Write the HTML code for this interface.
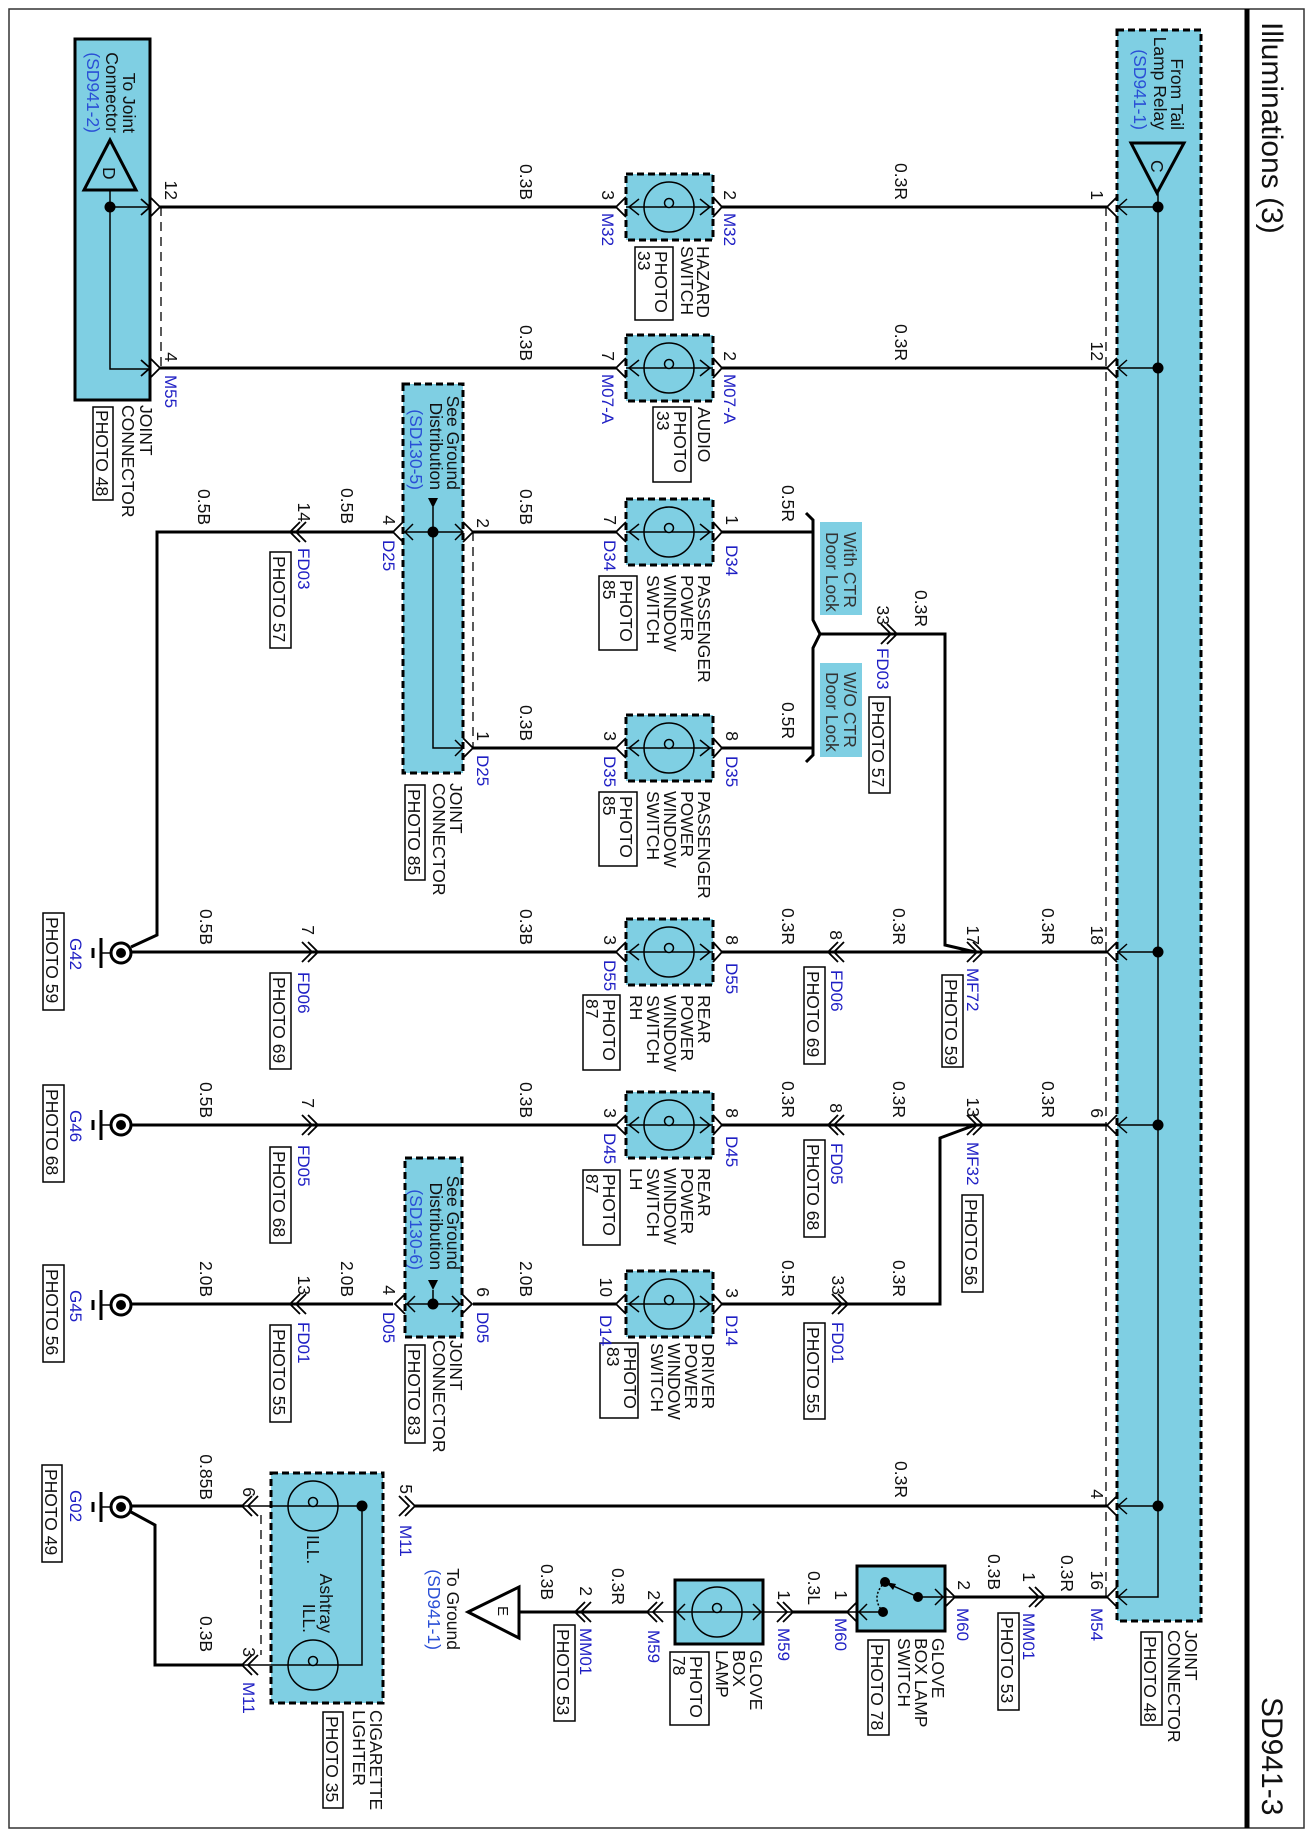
<!DOCTYPE html>
<html><head><meta charset="utf-8">
<style>
html,body{margin:0;padding:0;background:#fff;}
svg{display:block;}
text{font-family:"Liberation Sans",Arial,sans-serif;font-size:17.5px;fill:#111;}
.b{fill:#1f1fc4;font-size:17px;}
.s{fill:#2a4fd6;}
.e{text-anchor:end;}
.k{fill:#333;}
.w{fill:none;stroke:#000;stroke-width:3;}
.n{fill:none;stroke:#000;stroke-width:1.5;}
.c{fill:none;stroke:#000;stroke-width:1.8;}
.bx{fill:#7fcfe3;stroke:#000;stroke-width:3;stroke-dasharray:7 4;}
.sb{fill:#7fcfe3;stroke:#000;stroke-width:3;}
.pb{fill:#fff;stroke:#000;stroke-width:1.5;}
.dl{fill:none;stroke:#000;stroke-width:1.3;stroke-dasharray:9 6;}
</style></head><body>
<svg width="1311" height="1839" viewBox="0 0 1311 1839" xmlns="http://www.w3.org/2000/svg">
<rect x="9" y="9" width="1295" height="1819" fill="none" stroke="#333" stroke-width="1.5"/>
<line x1="1247" y1="9" x2="1247" y2="1828" stroke="#000" stroke-width="5"/>
<text transform="translate(1262,22) rotate(90)" style="font-size:30px">Illuminations (3)</text>
<text transform="translate(1262,1697) rotate(90)" style="font-size:30px">SD941-3</text>

<rect class="sb" x="75" y="39" width="75" height="361"/>
<rect class="bx" x="1117" y="30" width="84" height="1591"/>
<rect class="bx" x="403" y="384" width="60" height="389"/>
<rect class="bx" x="405" y="1158" width="57" height="179"/>
<rect class="bx" x="271" y="1473" width="112" height="230"/>
<rect class="sb" x="675" y="1580" width="88" height="64"/>
<rect class="sb" x="857" y="1566" width="88" height="65"/>
<g class="bx">
<rect x="626" y="174" width="87" height="66"/>
<rect x="626" y="335" width="87" height="66"/>
<rect x="626" y="499" width="87" height="66"/>
<rect x="626" y="715" width="87" height="66"/>
<rect x="626" y="919" width="87" height="66"/>
<rect x="626" y="1092" width="87" height="66"/>
<rect x="626" y="1271" width="87" height="66"/>
</g>
<rect x="820" y="522" width="42" height="93" fill="#7fcfe3"/>
<rect x="820" y="663" width="42" height="94" fill="#7fcfe3"/>

<polygon points="110,140 84,190 136,190" fill="none" stroke="#000" stroke-width="3"/>
<polygon points="1131,143 1184,143 1157,193" fill="none" stroke="#000" stroke-width="3"/>
<polygon points="468,1612 519,1587 519,1638" fill="#fff" stroke="#000" stroke-width="3"/>
<polygon points="428,498 438,498 433,508" fill="#000"/>
<polygon points="428,1280 438,1280 433,1290" fill="#000"/>

<path class="w" d="M160 207H616M722 207H1107M160 368H616M722 368H1107
M131 947L157 935V532H393M473 532H616M722 532H813M473 748H616M722 748H813
M806 513L813 520V620L820 634L813 648V755L806 762M820 634H945V945L975 952
M131 952H616M722 952H1107M131 1125H616M722 1125H1107M975 1125L940 1138V1304H722
M131 1304H393M473 1304H616
M131 1506H242M415 1506H1107M131 1512L155 1525V1665H242
M955 1597H1107M519 1612H647M793 1612H847"/>

<path class="n" d="M110 190V369H150M110 207H150M1158 193V1597H1117M1158 207H1117M1158 368H1117M1158 952H1117M1158 1125H1117M1158 1506H1117
M403 532H463M433 507V748H463M405 1304H462M433 1290V1304
M242 1506H362V1665H242M647 1612H793
M918 1597H955M883 1612H847M918 1597L889 1584
M626 207H713M626 368H713M626 532H713M626 748H713M626 952H713M626 1125H713M626 1304H713"/>
<path d="M885 1582Q870 1597 883 1612" fill="none" stroke="#000" stroke-width="1.5" stroke-dasharray="2 2"/>
<polygon points="886,1582 896,1584 893,1590" fill="#000"/>
<g fill="#000">
<circle cx="110" cy="207" r="5.5"/><circle cx="1158" cy="207" r="5.5"/><circle cx="1158" cy="368" r="5.5"/>
<circle cx="1158" cy="952" r="5.5"/><circle cx="1158" cy="1125" r="5.5"/><circle cx="1158" cy="1506" r="5.5"/>
<circle cx="433" cy="532" r="5.5"/><circle cx="433" cy="1304" r="5.5"/><circle cx="362" cy="1506" r="5.5"/>
<circle cx="885" cy="1582" r="5"/><circle cx="918" cy="1597" r="5"/><circle cx="883" cy="1612" r="5"/>
</g>

<path class="dl" d="M161 207V369M473 532V748M1106 207V1597M261 1515V1655"/>

<g fill="none" stroke="#000" stroke-width="1.5">
<circle cx="669" cy="207" r="25"/><circle cx="669" cy="368" r="25"/><circle cx="669" cy="532" r="25"/>
<circle cx="669" cy="748" r="25"/><circle cx="669" cy="952" r="25"/><circle cx="669" cy="1125" r="25"/>
<circle cx="669" cy="1304" r="25"/><circle cx="313" cy="1506" r="25"/><circle cx="313" cy="1665" r="25"/>
<circle cx="717" cy="1612" r="25"/>
</g>
<g fill="#7fcfe3" stroke="#000" stroke-width="1.5">
<circle cx="669" cy="203" r="4.5"/><circle cx="669" cy="364" r="4.5"/><circle cx="669" cy="528" r="4.5"/>
<circle cx="669" cy="744" r="4.5"/><circle cx="669" cy="948" r="4.5"/><circle cx="669" cy="1121" r="4.5"/>
<circle cx="669" cy="1300" r="4.5"/><circle cx="313" cy="1502" r="4.5"/><circle cx="313" cy="1661" r="4.5"/>
<circle cx="717" cy="1608" r="4.5"/>
</g>

<path class="c" d="M150 197L160 207L150 217M150 358L160 368L150 378
M141 199L150 207L141 215M141 360L150 368L141 376
M1117 197L1107 207L1117 217M1117 358L1107 368L1117 378M1117 942L1107 952L1117 962M1117 1115L1107 1125L1117 1135M1117 1496L1107 1506L1117 1516M1117 1587L1107 1597L1117 1607"/>
<path class="n" d="M1127 199L1118 207L1127 215M1127 360L1118 368L1127 376M1127 944L1118 952L1127 960M1127 1117L1118 1125L1127 1133M1127 1498L1118 1506L1127 1514M1127 1589L1118 1597L1127 1605"/>
<g class="c">
<path d="M626 197L616 207L626 217M713 197L722 207L713 217"/>
<path d="M626 358L616 368L626 378M713 358L722 368L713 378"/>
<path d="M626 522L616 532L626 542M713 522L722 532L713 542"/>
<path d="M626 738L616 748L626 758M713 738L722 748L713 758"/>
<path d="M626 942L616 952L626 962M713 942L722 952L713 962"/>
<path d="M626 1115L616 1125L626 1135M713 1115L722 1125L713 1135"/>
<path d="M626 1294L616 1304L626 1314M713 1294L722 1304L713 1314"/>
<path d="M403 522L393 532L403 542M463 522L473 532L463 542M463 738L473 748L463 758"/>
<path d="M405 1294L395 1304L405 1314M462 1294L472 1304L462 1314"/>
<path d="M300 522L290 532L300 542M306 522L296 532L306 542"/>
<path d="M308 942L318 952L308 962M302 942L312 952L302 962"/>
<path d="M308 1115L318 1125L308 1135M302 1115L312 1125L302 1135"/>
<path d="M300 1294L290 1304L300 1314M306 1294L296 1304L306 1314"/>
<path d="M838 942L828 952L838 962M844 942L834 952L844 962"/>
<path d="M838 1115L828 1125L838 1135M844 1115L834 1125L844 1135"/>
<path d="M973 942L983 952L973 962M967 942L977 952L967 962"/>
<path d="M973 1115L983 1125L973 1135M967 1115L977 1125L967 1135"/>
<path d="M887 624L897 634L887 644M881 624L891 634L881 644"/>
<path d="M838 1294L848 1304L838 1314M832 1294L842 1304L832 1314"/>
<path d="M252 1496L242 1506L252 1516M258 1496L248 1506L258 1516"/>
<path d="M252 1655L242 1665L252 1675M258 1655L248 1665L258 1675"/>
<path d="M405 1496L415 1506L405 1516M399 1496L409 1506L399 1516"/>
<path d="M585 1602L575 1612L585 1622M591 1602L581 1612L591 1622"/>
<path d="M657 1602L647 1612L657 1622M663 1602L653 1612L663 1622"/>
<path d="M783 1602L793 1612L783 1622M777 1602L787 1612L777 1622"/>
<path d="M857 1602L847 1612L857 1622M945 1587L955 1597L945 1607"/>
<path d="M1035 1587L1045 1597L1035 1607M1029 1587L1039 1597L1029 1607"/>
</g>
<path class="n" d="M639 199L629 207L639 215M700 199L710 207L700 215M639 360L629 368L639 376M700 360L710 368L700 376
M639 524L629 532L639 540M700 524L710 532L700 540M639 740L629 748L639 756M700 740L710 748L700 756
M639 944L629 952L639 960M700 944L710 952L700 960M639 1117L629 1125L639 1133M700 1117L710 1125L700 1133
M639 1296L629 1304L639 1312M700 1296L710 1304L700 1312
M413 524L405 532L413 540M455 524L463 532L455 540M455 740L463 748L455 756M415 1296L407 1304L415 1312M452 1296L460 1304L452 1312
M685 1604L677 1612L685 1620M753 1604L761 1612L753 1620M867 1604L859 1612L867 1620M935 1589L943 1597L935 1605"/>

<g>
<g transform="translate(0,953)"><line x1="101" y1="-15" x2="101" y2="15" stroke="#000" stroke-width="3"/><line x1="93" y1="-5" x2="93" y2="5" stroke="#000" stroke-width="3"/><line x1="101" y1="0" x2="111" y2="0" stroke="#000" stroke-width="1.5"/><circle cx="121" cy="0" r="10" fill="#fff" stroke="#000" stroke-width="3"/><circle cx="121" cy="0" r="5" fill="#000"/></g>
<g transform="translate(0,1125)"><line x1="101" y1="-15" x2="101" y2="15" stroke="#000" stroke-width="3"/><line x1="93" y1="-5" x2="93" y2="5" stroke="#000" stroke-width="3"/><line x1="101" y1="0" x2="111" y2="0" stroke="#000" stroke-width="1.5"/><circle cx="121" cy="0" r="10" fill="#fff" stroke="#000" stroke-width="3"/><circle cx="121" cy="0" r="5" fill="#000"/></g>
<g transform="translate(0,1305)"><line x1="101" y1="-15" x2="101" y2="15" stroke="#000" stroke-width="3"/><line x1="93" y1="-5" x2="93" y2="5" stroke="#000" stroke-width="3"/><line x1="101" y1="0" x2="111" y2="0" stroke="#000" stroke-width="1.5"/><circle cx="121" cy="0" r="10" fill="#fff" stroke="#000" stroke-width="3"/><circle cx="121" cy="0" r="5" fill="#000"/></g>
<g transform="translate(0,1507)"><line x1="101" y1="-15" x2="101" y2="15" stroke="#000" stroke-width="3"/><line x1="93" y1="-5" x2="93" y2="5" stroke="#000" stroke-width="3"/><line x1="101" y1="0" x2="111" y2="0" stroke="#000" stroke-width="1.5"/><circle cx="121" cy="0" r="10" fill="#fff" stroke="#000" stroke-width="3"/><circle cx="121" cy="0" r="5" fill="#000"/></g>
</g>

<g class="pb">
<rect x="93" y="407" width="20" height="93"/>
<rect x="635" y="247" width="38" height="73"/>
<rect x="653" y="407" width="38" height="75"/>
<rect x="270" y="552" width="21" height="96"/>
<rect x="599" y="576" width="38" height="74"/>
<rect x="405" y="785" width="20" height="95"/>
<rect x="869" y="697" width="21" height="96"/>
<rect x="599" y="792" width="38" height="74"/>
<rect x="43" y="913" width="21" height="97"/>
<rect x="270" y="973" width="21" height="96"/>
<rect x="804" y="967" width="21" height="97"/>
<rect x="942" y="975" width="21" height="92"/>
<rect x="583" y="995" width="37" height="75"/>
<rect x="43" y="1085" width="21" height="97"/>
<rect x="270" y="1147" width="21" height="96"/>
<rect x="804" y="1140" width="21" height="97"/>
<rect x="962" y="1195" width="21" height="97"/>
<rect x="583" y="1170" width="37" height="75"/>
<rect x="43" y="1265" width="21" height="97"/>
<rect x="270" y="1325" width="21" height="97"/>
<rect x="804" y="1323" width="21" height="96"/>
<rect x="600" y="1343" width="38" height="75"/>
<rect x="405" y="1345" width="20" height="98"/>
<rect x="42" y="1465" width="20" height="97"/>
<rect x="323" y="1712" width="20" height="96"/>
<rect x="554" y="1625" width="21" height="96"/>
<rect x="670" y="1652" width="39" height="73"/>
<rect x="868" y="1640" width="21" height="95"/>
<rect x="998" y="1613" width="21" height="97"/>
<rect x="1141" y="1632" width="21" height="93"/>
</g>

<g>
<text class="e" transform="translate(123,133) rotate(90)">To Joint</text>
<text class="e" transform="translate(106,133) rotate(90)">Connector</text>
<text class="e s" transform="translate(87,133) rotate(90)">(SD941-2)</text>
<text transform="translate(103,167) rotate(90)">D</text>
<text transform="translate(140,405) rotate(90)">JOINT</text>
<text transform="translate(122,405) rotate(90)">CONNECTOR</text>
<text transform="translate(96,410) rotate(90)">PHOTO 48</text>
<text class="e" transform="translate(165,200) rotate(90)">12</text>
<text class="e" transform="translate(165,362) rotate(90)">4</text>
<text class="b" transform="translate(165,375) rotate(90)">M55</text>

<text class="e" transform="translate(1171,130) rotate(90)">From Tail</text>
<text class="e" transform="translate(1154,130) rotate(90)">Lamp Relay</text>
<text class="e s" transform="translate(1134,130) rotate(90)">(SD941-1)</text>
<text transform="translate(1151,160) rotate(90)">C</text>
<text transform="translate(1185,1630) rotate(90)">JOINT</text>
<text transform="translate(1168,1630) rotate(90)">CONNECTOR</text>
<text transform="translate(1144,1636) rotate(90)">PHOTO 48</text>

<text class="e" transform="translate(520,200) rotate(90)">0.3B</text>
<text class="e" transform="translate(602,200) rotate(90)">3</text>
<text class="b" transform="translate(602,213) rotate(90)">M32</text>
<text class="e" transform="translate(724,200) rotate(90)">2</text>
<text class="b" transform="translate(724,213) rotate(90)">M32</text>
<text class="e" transform="translate(895,200) rotate(90)">0.3R</text>
<text class="e" transform="translate(1091,200) rotate(90)">1</text>
<text transform="translate(697,246) rotate(90)">HAZARD</text>
<text transform="translate(681,246) rotate(90)">SWITCH</text>
<text transform="translate(655,251) rotate(90)">PHOTO</text>
<text transform="translate(638,251) rotate(90)">33</text>
<text class="e" transform="translate(520,361) rotate(90)">0.3B</text>
<text class="e" transform="translate(602,361) rotate(90)">7</text>
<text class="b" transform="translate(602,374) rotate(90)">M07-A</text>
<text class="e" transform="translate(724,361) rotate(90)">2</text>
<text class="b" transform="translate(724,374) rotate(90)">M07-A</text>
<text class="e" transform="translate(895,361) rotate(90)">0.3R</text>
<text class="e" transform="translate(1091,361) rotate(90)">12</text>
<text transform="translate(698,407) rotate(90)">AUDIO</text>
<text transform="translate(674,411) rotate(90)">PHOTO</text>
<text transform="translate(657,411) rotate(90)">33</text>
<text class="e" transform="translate(447,490) rotate(90)">See Ground</text>
<text class="e" transform="translate(430,490) rotate(90)">Distribution</text>
<text class="e s" transform="translate(410,490) rotate(90)">(SD130-5)</text>
<text transform="translate(450,783) rotate(90)">JOINT</text>
<text transform="translate(433,783) rotate(90)">CONNECTOR</text>
<text transform="translate(408,789) rotate(90)">PHOTO 85</text>
<text class="e" transform="translate(198,525) rotate(90)">0.5B</text>
<text class="e" transform="translate(298,522) rotate(90)">14</text>
<text class="b" transform="translate(298,548) rotate(90)">FD03</text>
<text transform="translate(273,556) rotate(90)">PHOTO 57</text>
<text class="e" transform="translate(341,524) rotate(90)">0.5B</text>
<text class="e" transform="translate(383,525) rotate(90)">4</text>
<text class="b" transform="translate(383,540) rotate(90)">D25</text>
<text class="e" transform="translate(477,528) rotate(90)">2</text>
<text class="e" transform="translate(520,525) rotate(90)">0.5B</text>
<text class="e" transform="translate(604,525) rotate(90)">7</text>
<text class="b" transform="translate(604,540) rotate(90)">D34</text>
<text class="e" transform="translate(726,525) rotate(90)">1</text>
<text class="b" transform="translate(726,545) rotate(90)">D34</text>
<text class="e" transform="translate(782,522) rotate(90)">0.5R</text>
<text transform="translate(698,575) rotate(90)">PASSENGER</text>
<text transform="translate(681,575) rotate(90)">POWER</text>
<text transform="translate(664,575) rotate(90)">WINDOW</text>
<text transform="translate(647,575) rotate(90)">SWITCH</text>
<text transform="translate(620,580) rotate(90)">PHOTO</text>
<text transform="translate(603,580) rotate(90)">85</text>
<text class="k" transform="translate(844,532) rotate(90)">With CTR</text>
<text class="k" transform="translate(826,532) rotate(90)">Door Lock</text>
<text class="k" transform="translate(844,672) rotate(90)">W/O CTR</text>
<text class="k" transform="translate(826,672) rotate(90)">Door Lock</text>
<text class="e" transform="translate(915,627) rotate(90)">0.3R</text>
<text class="e" transform="translate(877,625) rotate(90)">33</text>
<text class="b" transform="translate(877,648) rotate(90)">FD03</text>
<text transform="translate(872,701) rotate(90)">PHOTO 57</text>
<text class="e" transform="translate(520,741) rotate(90)">0.3B</text>
<text class="e" transform="translate(477,741) rotate(90)">1</text>
<text class="b" transform="translate(477,755) rotate(90)">D25</text>
<text class="e" transform="translate(604,741) rotate(90)">3</text>
<text class="b" transform="translate(604,756) rotate(90)">D35</text>
<text class="e" transform="translate(726,741) rotate(90)">8</text>
<text class="b" transform="translate(726,756) rotate(90)">D35</text>
<text class="e" transform="translate(782,739) rotate(90)">0.5R</text>
<text transform="translate(698,791) rotate(90)">PASSENGER</text>
<text transform="translate(681,791) rotate(90)">POWER</text>
<text transform="translate(664,791) rotate(90)">WINDOW</text>
<text transform="translate(647,791) rotate(90)">SWITCH</text>
<text transform="translate(620,796) rotate(90)">PHOTO</text>
<text transform="translate(603,796) rotate(90)">85</text>
<text class="e" transform="translate(200,945) rotate(90)">0.5B</text>
<text class="b" transform="translate(70,938) rotate(90)">G42</text>
<text transform="translate(46,917) rotate(90)">PHOTO 59</text>
<text class="e" transform="translate(302,935) rotate(90)">7</text>
<text class="b" transform="translate(298,972) rotate(90)">FD06</text>
<text transform="translate(273,977) rotate(90)">PHOTO 69</text>
<text class="e" transform="translate(520,945) rotate(90)">0.3B</text>
<text class="e" transform="translate(604,945) rotate(90)">3</text>
<text class="b" transform="translate(604,960) rotate(90)">D55</text>
<text class="e" transform="translate(726,945) rotate(90)">8</text>
<text class="b" transform="translate(726,963) rotate(90)">D55</text>
<text class="e" transform="translate(782,945) rotate(90)">0.3R</text>
<text class="e" transform="translate(830,940) rotate(90)">8</text>
<text class="b" transform="translate(831,970) rotate(90)">FD06</text>
<text transform="translate(807,971) rotate(90)">PHOTO 69</text>
<text class="e" transform="translate(893,945) rotate(90)">0.3R</text>
<text class="e" transform="translate(967,945) rotate(90)">17</text>
<text class="b" transform="translate(967,968) rotate(90)">MF72</text>
<text transform="translate(945,979) rotate(90)">PHOTO 59</text>
<text class="e" transform="translate(1042,945) rotate(90)">0.3R</text>
<text class="e" transform="translate(1091,945) rotate(90)">18</text>
<text transform="translate(698,995) rotate(90)">REAR</text>
<text transform="translate(681,995) rotate(90)">POWER</text>
<text transform="translate(664,995) rotate(90)">WINDOW</text>
<text transform="translate(647,995) rotate(90)">SWITCH</text>
<text transform="translate(630,995) rotate(90)">RH</text>
<text transform="translate(603,999) rotate(90)">PHOTO</text>
<text transform="translate(586,999) rotate(90)">87</text>
<text class="e" transform="translate(200,1118) rotate(90)">0.5B</text>
<text class="b" transform="translate(70,1110) rotate(90)">G46</text>
<text transform="translate(46,1089) rotate(90)">PHOTO 68</text>
<text class="e" transform="translate(302,1108) rotate(90)">7</text>
<text class="b" transform="translate(298,1145) rotate(90)">FD05</text>
<text transform="translate(273,1151) rotate(90)">PHOTO 68</text>
<text class="e" transform="translate(520,1118) rotate(90)">0.3B</text>
<text class="e" transform="translate(604,1118) rotate(90)">3</text>
<text class="b" transform="translate(604,1133) rotate(90)">D45</text>
<text class="e" transform="translate(726,1118) rotate(90)">8</text>
<text class="b" transform="translate(726,1136) rotate(90)">D45</text>
<text class="e" transform="translate(782,1118) rotate(90)">0.3R</text>
<text class="e" transform="translate(830,1113) rotate(90)">8</text>
<text class="b" transform="translate(831,1143) rotate(90)">FD05</text>
<text transform="translate(807,1144) rotate(90)">PHOTO 68</text>
<text class="e" transform="translate(893,1118) rotate(90)">0.3R</text>
<text class="e" transform="translate(967,1117) rotate(90)">13</text>
<text class="b" transform="translate(967,1142) rotate(90)">MF32</text>
<text transform="translate(965,1199) rotate(90)">PHOTO 56</text>
<text class="e" transform="translate(1042,1118) rotate(90)">0.3R</text>
<text class="e" transform="translate(1091,1118) rotate(90)">6</text>
<text transform="translate(698,1168) rotate(90)">REAR</text>
<text transform="translate(681,1168) rotate(90)">POWER</text>
<text transform="translate(664,1168) rotate(90)">WINDOW</text>
<text transform="translate(647,1168) rotate(90)">SWITCH</text>
<text transform="translate(630,1168) rotate(90)">LH</text>
<text transform="translate(603,1174) rotate(90)">PHOTO</text>
<text transform="translate(586,1174) rotate(90)">87</text>
<text class="e" transform="translate(447,1270) rotate(90)">See Ground</text>
<text class="e" transform="translate(430,1270) rotate(90)">Distribution</text>
<text class="e s" transform="translate(410,1270) rotate(90)">(SD130-6)</text>
<text transform="translate(450,1340) rotate(90)">JOINT</text>
<text transform="translate(433,1340) rotate(90)">CONNECTOR</text>
<text transform="translate(408,1349) rotate(90)">PHOTO 83</text>
<text class="e" transform="translate(200,1297) rotate(90)">2.0B</text>
<text class="b" transform="translate(70,1290) rotate(90)">G45</text>
<text transform="translate(46,1269) rotate(90)">PHOTO 56</text>
<text class="e" transform="translate(298,1295) rotate(90)">13</text>
<text class="b" transform="translate(298,1322) rotate(90)">FD01</text>
<text transform="translate(273,1329) rotate(90)">PHOTO 55</text>
<text class="e" transform="translate(341,1297) rotate(90)">2.0B</text>
<text class="e" transform="translate(383,1295) rotate(90)">4</text>
<text class="b" transform="translate(383,1312) rotate(90)">D05</text>
<text class="e" transform="translate(477,1297) rotate(90)">6</text>
<text class="b" transform="translate(477,1312) rotate(90)">D05</text>
<text class="e" transform="translate(520,1297) rotate(90)">2.0B</text>
<text class="e" transform="translate(600,1297) rotate(90)">10</text>
<text class="b" transform="translate(600,1315) rotate(90)">D14</text>
<text class="e" transform="translate(726,1298) rotate(90)">3</text>
<text class="b" transform="translate(726,1315) rotate(90)">D14</text>
<text class="e" transform="translate(782,1297) rotate(90)">0.5R</text>
<text class="e" transform="translate(832,1295) rotate(90)">33</text>
<text class="b" transform="translate(832,1322) rotate(90)">FD01</text>
<text transform="translate(807,1327) rotate(90)">PHOTO 55</text>
<text class="e" transform="translate(893,1297) rotate(90)">0.3R</text>
<text transform="translate(702,1343) rotate(90)">DRIVER</text>
<text transform="translate(685,1343) rotate(90)">POWER</text>
<text transform="translate(668,1343) rotate(90)">WINDOW</text>
<text transform="translate(651,1343) rotate(90)">SWITCH</text>
<text transform="translate(624,1347) rotate(90)">PHOTO</text>
<text transform="translate(607,1347) rotate(90)">83</text>
<text class="b" transform="translate(70,1490) rotate(90)">G02</text>
<text transform="translate(45,1469) rotate(90)">PHOTO 49</text>
<text class="e" transform="translate(200,1500) rotate(90)">0.85B</text>
<text class="e" transform="translate(243,1497) rotate(90)">6</text>
<text class="e" transform="translate(200,1652) rotate(90)">0.3B</text>
<text class="e" transform="translate(243,1657) rotate(90)">3</text>
<text class="b" transform="translate(243,1682) rotate(90)">M11</text>
<text transform="translate(307,1535) rotate(90)">ILL.</text>
<text class="e" transform="translate(320,1633) rotate(90)">Ashtray</text>
<text class="e" transform="translate(303,1633) rotate(90)">ILL.</text>
<text class="e" transform="translate(400,1494) rotate(90)">5</text>
<text class="b" transform="translate(400,1525) rotate(90)">M11</text>
<text class="e" transform="translate(895,1498) rotate(90)">0.3R</text>
<text class="e" transform="translate(1091,1499) rotate(90)">4</text>
<text transform="translate(370,1710) rotate(90)">CIGARETTE</text>
<text transform="translate(353,1710) rotate(90)">LIGHTER</text>
<text transform="translate(326,1716) rotate(90)">PHOTO 35</text>
<text class="e" transform="translate(447,1650) rotate(90)">To Ground</text>
<text class="e s" transform="translate(428,1650) rotate(90)">(SD941-1)</text>
<text transform="translate(498,1606) rotate(90)" style="font-size:15px">E</text>
<text class="e" transform="translate(541,1600) rotate(90)">0.3B</text>
<text class="e" transform="translate(580,1596) rotate(90)">2</text>
<text class="b" transform="translate(580,1628) rotate(90)">MM01</text>
<text transform="translate(557,1629) rotate(90)">PHOTO 53</text>
<text class="e" transform="translate(612,1605) rotate(90)">0.3R</text>
<text class="e" transform="translate(648,1600) rotate(90)">2</text>
<text class="b" transform="translate(648,1630) rotate(90)">M59</text>
<text class="e" transform="translate(778,1600) rotate(90)">1</text>
<text class="b" transform="translate(778,1628) rotate(90)">M59</text>
<text transform="translate(750,1650) rotate(90)">GLOVE</text>
<text transform="translate(733,1650) rotate(90)">BOX</text>
<text transform="translate(716,1650) rotate(90)">LAMP</text>
<text transform="translate(690,1656) rotate(90)">PHOTO</text>
<text transform="translate(673,1656) rotate(90)">78</text>
<text class="e" transform="translate(808,1605) rotate(90)">0.3L</text>
<text class="e" transform="translate(835,1600) rotate(90)">1</text>
<text class="b" transform="translate(835,1618) rotate(90)">M60</text>
<text class="e" transform="translate(958,1590) rotate(90)">2</text>
<text class="b" transform="translate(957,1608) rotate(90)">M60</text>
<text transform="translate(932,1638) rotate(90)">GLOVE</text>
<text transform="translate(915,1638) rotate(90)">BOX LAMP</text>
<text transform="translate(898,1638) rotate(90)">SWITCH</text>
<text transform="translate(871,1644) rotate(90)">PHOTO 78</text>
<text class="e" transform="translate(988,1590) rotate(90)">0.3B</text>
<text class="e" transform="translate(1023,1582) rotate(90)">1</text>
<text class="b" transform="translate(1023,1613) rotate(90)">MM01</text>
<text transform="translate(1001,1617) rotate(90)">PHOTO 53</text>
<text class="e" transform="translate(1061,1592) rotate(90)">0.3R</text>
<text class="e" transform="translate(1091,1590) rotate(90)">16</text>
<text class="b" transform="translate(1091,1608) rotate(90)">M54</text>
</g>
</svg>
</body></html>
